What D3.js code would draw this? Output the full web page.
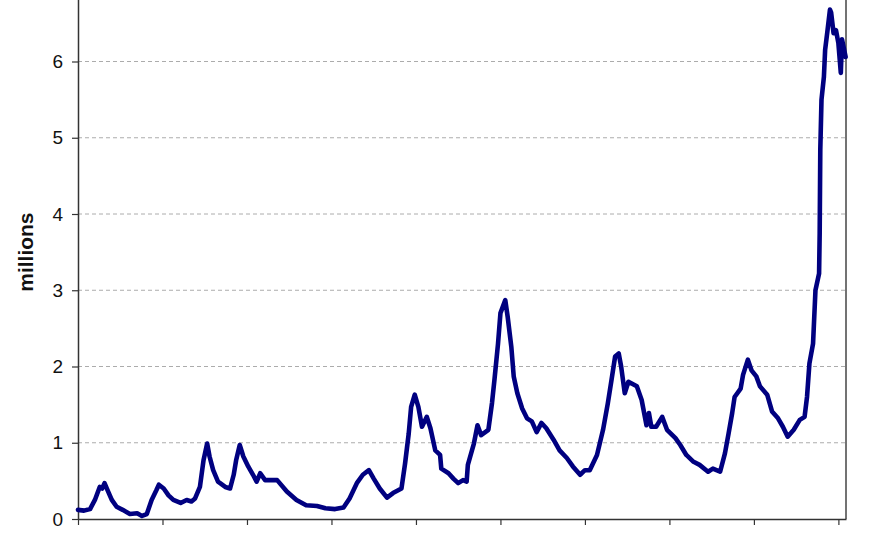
<!DOCTYPE html>
<html>
<head>
<meta charset="utf-8">
<script src="https://cdn.jsdelivr.net/npm/d3@7"></script>
<style>
  html, body { margin: 0; padding: 0; background: #fff; }
  svg { display: block; font-family: "Liberation Sans", Arial, sans-serif; }
</style>
</head>
<body>
<svg id="chart" width="880" height="542"></svg>
<script>
// decimal year, millions
const years = [
  1948.0, 1948.5, 1949.0, 1949.4, 1949.8, 1950.0, 1950.2, 1950.5, 1950.8, 1951.2,
  1951.7, 1952.3, 1952.9, 1953.3, 1953.7, 1954.1, 1954.5, 1954.7, 1955.1, 1955.5,
  1955.9, 1956.5, 1957.0, 1957.4, 1957.7, 1958.1, 1958.4, 1958.7, 1958.9, 1959.2,
  1959.6, 1960.2, 1960.6, 1960.9, 1961.1, 1961.4, 1961.7, 1962.1, 1962.5, 1962.8,
  1963.1, 1963.5, 1963.9, 1964.5, 1965.3, 1966.1, 1966.9, 1967.8, 1968.5, 1969.3,
  1970.0, 1970.5, 1971.1, 1971.6, 1972.1, 1972.5, 1973.0, 1973.6, 1974.1, 1974.8,
  1975.1, 1975.4, 1975.6, 1975.9, 1976.2, 1976.5, 1976.9, 1977.2, 1977.6, 1978.0,
  1978.1, 1978.7, 1979.1, 1979.5, 1979.9, 1980.2, 1980.3, 1980.8, 1981.1, 1981.4,
  1982.0, 1982.3, 1982.5, 1982.8, 1983.0, 1983.4, 1983.6, 1983.9, 1984.1, 1984.4,
  1984.8, 1985.2, 1985.6, 1986.0, 1986.4, 1986.8, 1987.4, 1987.9, 1988.5, 1989.0,
  1989.6, 1990.0, 1990.4, 1991.0, 1991.5, 1991.9, 1992.2, 1992.5, 1992.8, 1993.0,
  1993.3, 1993.6, 1994.3, 1994.7, 1995.1, 1995.3, 1995.5, 1995.9, 1996.4, 1996.8,
  1997.5, 1997.9, 1998.4, 1999.0, 1999.5, 2000.2, 2000.6, 2001.2, 2001.6, 2001.9,
  2002.2, 2002.4, 2002.9, 2003.1, 2003.5, 2003.8, 2004.2, 2004.5, 2005.1, 2005.5,
  2006.0, 2006.4, 2006.8, 2007.3, 2007.8, 2008.2, 2008.4, 2008.6, 2008.9, 2009.1,
  2009.4, 2009.45, 2009.5, 2009.6, 2009.8, 2009.9, 2010.1, 2010.3, 2010.4, 2010.6,
  2010.8, 2011.0, 2011.2, 2011.3, 2011.6
];
const millions = [
  0.12, 0.11, 0.13, 0.25, 0.42, 0.40, 0.47, 0.36, 0.25, 0.16,
  0.12, 0.065, 0.075, 0.04, 0.065, 0.25, 0.38, 0.45, 0.40, 0.31,
  0.25, 0.21, 0.25, 0.23, 0.27, 0.42, 0.77, 0.99, 0.82, 0.64,
  0.49, 0.42, 0.40, 0.58, 0.77, 0.97, 0.82, 0.69, 0.58, 0.49,
  0.60, 0.51, 0.51, 0.51, 0.36, 0.25, 0.18, 0.17, 0.14, 0.13,
  0.15, 0.27, 0.47, 0.58, 0.64, 0.53, 0.40, 0.28, 0.34, 0.40,
  0.73, 1.12, 1.47, 1.63, 1.47, 1.21, 1.34, 1.19, 0.90, 0.84,
  0.66, 0.60, 0.53, 0.47, 0.51, 0.49, 0.71, 0.99, 1.23, 1.10,
  1.17, 1.52, 1.82, 2.30, 2.70, 2.87, 2.65, 2.26, 1.87, 1.65,
  1.45, 1.32, 1.28, 1.14, 1.26, 1.19, 1.04, 0.90, 0.80, 0.69,
  0.58, 0.64, 0.64, 0.84, 1.17, 1.52, 1.82, 2.13, 2.17, 2.00,
  1.65, 1.80, 1.74, 1.56, 1.23, 1.39, 1.21, 1.21, 1.34, 1.17,
  1.06, 0.97, 0.84, 0.75, 0.71, 0.62, 0.66, 0.62, 0.86, 1.12,
  1.39, 1.60, 1.71, 1.89, 2.09, 1.95, 1.87, 1.74, 1.63, 1.41,
  1.32, 1.21, 1.08, 1.17, 1.30, 1.34, 1.60, 2.04, 2.30, 3.00,
  3.22, 3.75, 4.84, 5.50, 5.80, 6.15, 6.41, 6.68, 6.64, 6.37,
  6.41, 6.24, 5.85, 6.29, 6.06
];
const yTicks = [0, 1, 2, 3, 4, 5, 6];
const xTicks = [1948, 1955, 1962, 1969, 1976, 1983, 1990, 1997, 2004, 2011];
const yLabel = "millions";

const data = years.map((t, i) => ({ t: t, v: millions[i] }));

const svg = d3.select("#chart");

// plot area runs a little above the top of the window (max of 7 is cut off)
const plotLeft = 78, plotRight = 846, plotBottom = 519, plotTop = -14.75;

const x = d3.scaleLinear().domain([1948, 2011.63]).range([plotLeft, plotRight]);
const y = d3.scaleLinear().domain([0, 7]).range([plotBottom, plotTop]);

// dashed gridlines
svg.append("g")
  .selectAll("line")
  .data(yTicks.filter(d => d > 0))
  .enter()
  .append("line")
  .attr("x1", plotLeft)
  .attr("x2", plotRight)
  .attr("y1", d => y(d))
  .attr("y2", d => y(d))
  .attr("stroke", "#acacac")
  .attr("stroke-width", 1)
  .attr("stroke-dasharray", "4,3");

// right border
svg.append("line")
  .attr("x1", plotRight).attr("x2", plotRight)
  .attr("y1", plotTop).attr("y2", plotBottom)
  .attr("stroke", "#444")
  .attr("stroke-width", 1.5);

const yAxis = svg.append("g")
  .attr("transform", `translate(${plotLeft},0)`)
  .call(d3.axisLeft(y).tickValues(yTicks).tickSize(6).tickSizeOuter(0).tickPadding(9).tickFormat(d3.format("d")));

yAxis.select(".domain").attr("stroke", "#333").attr("stroke-width", 1.5);
yAxis.selectAll(".tick line").attr("stroke", "#333").attr("stroke-width", 1.2);
yAxis.selectAll(".tick text")
  .attr("font-size", 19)
  .attr("fill", "#111")
  .style("font-family", '"Liberation Sans", Arial, sans-serif');

const xAxis = svg.append("g")
  .attr("transform", `translate(0,${plotBottom})`)
  .call(d3.axisBottom(x).tickValues(xTicks).tickSize(6).tickSizeOuter(0).tickFormat(""));

xAxis.select(".domain").attr("stroke", "#333").attr("stroke-width", 1.5);
xAxis.selectAll(".tick line").attr("stroke", "#333").attr("stroke-width", 1.2);

svg.append("text")
  .attr("transform", `translate(33,${(plotTop + plotBottom) / 2}) rotate(-90)`)
  .attr("text-anchor", "middle")
  .attr("font-size", 21)
  .attr("font-weight", "bold")
  .attr("fill", "#111")
  .text(yLabel);

const line = d3.line()
  .x(d => x(d.t))
  .y(d => y(d.v));

svg.append("path")
  .datum(data)
  .attr("d", line)
  .attr("fill", "none")
  .attr("stroke", "#000080")
  .attr("stroke-width", 4.6)
  .attr("stroke-linejoin", "round")
  .attr("stroke-linecap", "round");
</script>
</body>
</html>
